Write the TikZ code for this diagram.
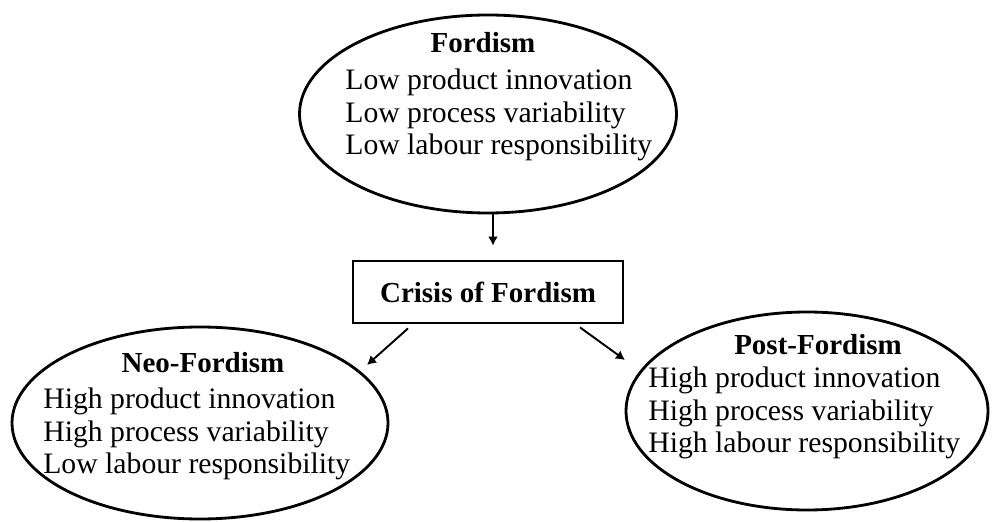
\documentclass[tikz,border=0pt]{standalone}
\usepackage{fontspec}
\setmainfont{Liberation Serif}
\usepackage{tikz}
\usetikzlibrary{shapes.geometric,arrows.meta}

\tikzset{
  oval/.style={draw, ellipse, line width=1.6pt, inner sep=0pt},
  crisisbox/.style={draw, rectangle, line width=1.6pt, inner sep=0pt},
  title/.style={font=\fontsize{16.5pt}{18.5pt}\selectfont\bfseries},
  items/.style={align=left, anchor=west, inner sep=0pt, font=\fontsize{16.9pt}{18.5pt}\selectfont},
  arr/.style={-{Latex[length=1.8mm,width=2mm]}, line width=1.1pt}
}

\begin{document}
\begin{tikzpicture}
  \useasboundingbox (0,0) rectangle (19.84,10.42);

  % Fordism at the top
  \node[oval, minimum width=7.54cm, minimum height=3.96cm] (ford) at (9.76,8.14) {};
  \node[title] (fordtitle) at (9.66,9.56) {Fordism};
  \node[items] (fordlist) at (6.90,8.12) {Low product innovation\\Low process variability\\Low labour responsibility};

  % The crisis
  \node[crisisbox, minimum width=5.4cm, minimum height=1.24cm, title] (crisis) at (9.76,4.58) {Crisis of Fordism};

  % Neo-Fordism on the left
  \node[oval, minimum width=7.52cm, minimum height=3.84cm] (neo) at (4.00,1.96) {};
  \node[title] (neotitle) at (4.06,3.16) {Neo-Fordism};
  \node[items] (neolist) at (0.86,1.74) {High product innovation\\High process variability\\Low labour responsibility};

  % Post-Fordism on the right
  \node[oval, minimum width=7.24cm, minimum height=3.96cm] (post) at (16.14,2.20) {};
  \node[title] (posttitle) at (16.36,3.52) {Post-Fordism};
  \node[items] (postlist) at (12.96,2.16) {High product innovation\\High process variability\\High labour responsibility};

  % Arrows
  \coordinate (neoin) at (7.34,3.12);
  \coordinate (postin) at (12.50,3.22);
  \draw[arr, shorten >=0.28cm] ([xshift=0.1cm]ford.south) -- ([xshift=0.1cm]ford.south |- crisis.north);
  \draw[arr] ([xshift=-1.6cm,yshift=-0.08cm]crisis.south) -- (neoin);
  \draw[arr] ([xshift=1.84cm,yshift=-0.06cm]crisis.south) -- (postin);
\end{tikzpicture}
\end{document}
